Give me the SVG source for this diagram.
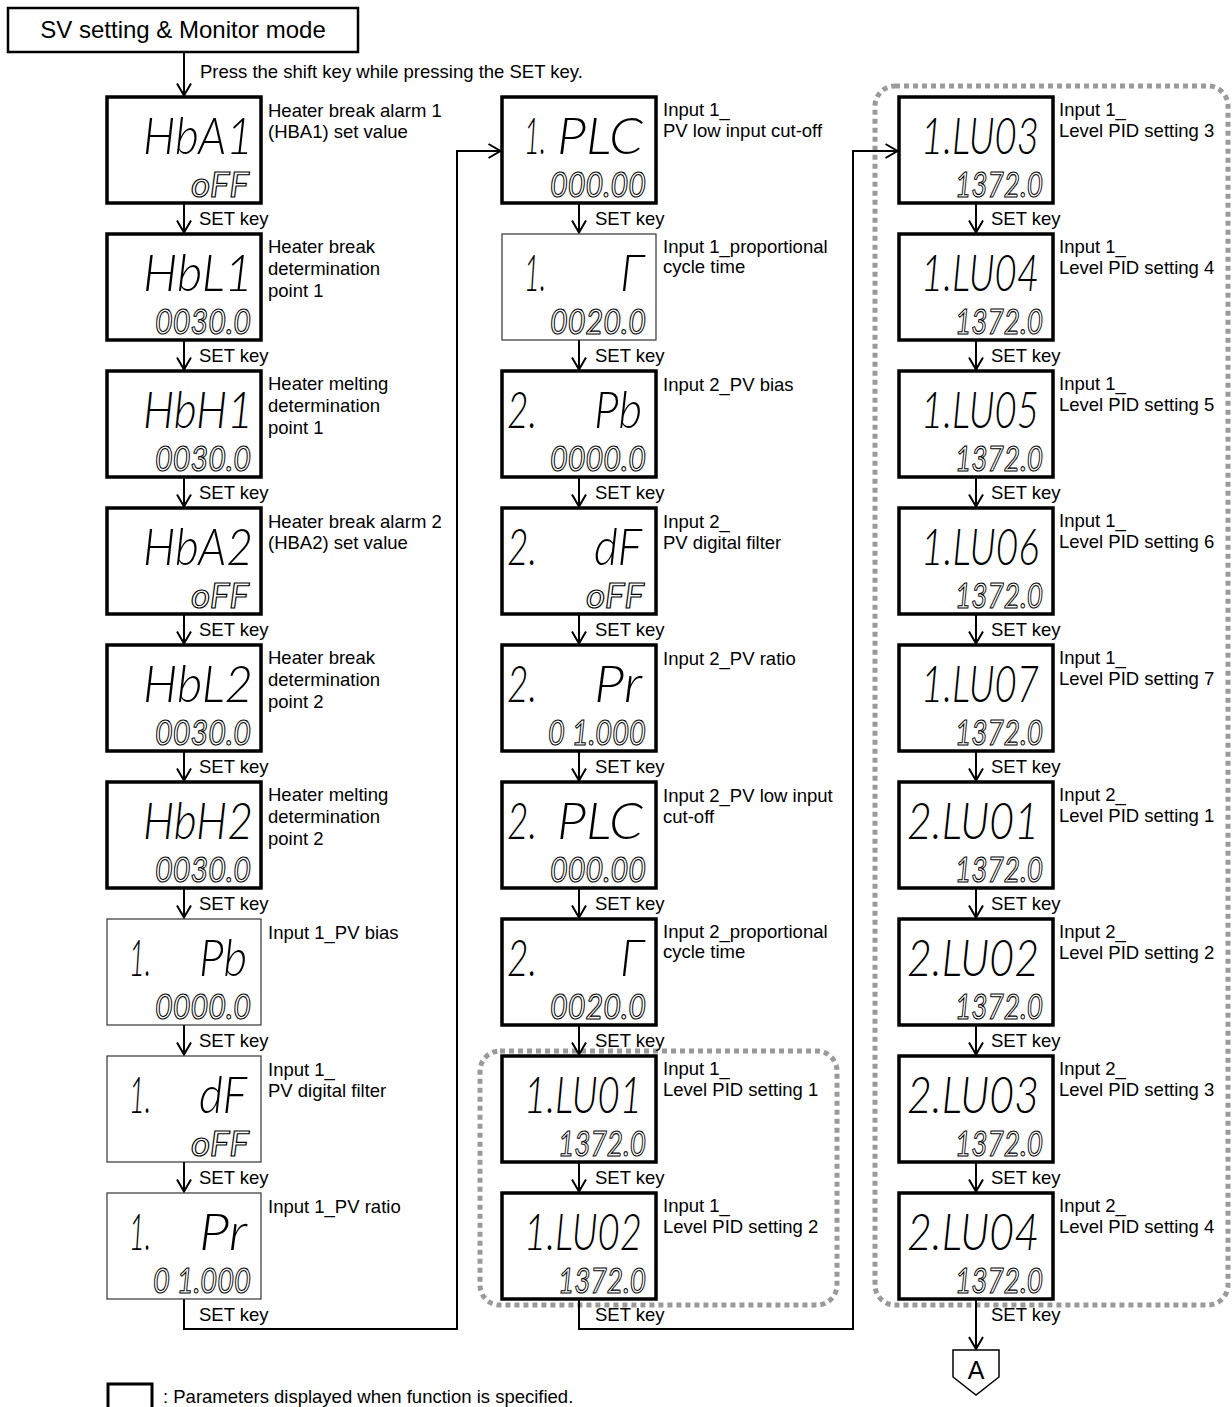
<svg xmlns="http://www.w3.org/2000/svg" width="1232" height="1407" viewBox="0 0 1232 1407">
<style>
.box{fill:#fff;stroke:#000;stroke-width:3.5}
.thin{fill:#fff;stroke:#333;stroke-width:1.2}
.lbl{font-family:"Liberation Sans",Arial,sans-serif;font-size:18.5px;fill:#000}
.seg{font-family:Lato,Roboto,"Liberation Sans",sans-serif;font-style:italic;font-weight:300;font-size:37px;fill:#000}
.sub{font-family:Lato,Roboto,"Liberation Sans",sans-serif;font-style:italic;font-weight:400;font-size:30px;fill:none;stroke:#000;stroke-width:0.95}
.grp{fill:none;stroke:#9a9a9a;stroke-width:5;stroke-dasharray:5 4}
.wire{fill:none;stroke:#000;stroke-width:2}
</style>
<defs>
<marker id="ah" markerUnits="userSpaceOnUse" markerWidth="20" markerHeight="20" viewBox="-14 -10 20 20" refX="0" refY="0" orient="auto"><path d="M-12,-7L0,0L-12,7" fill="none" stroke="#000" stroke-width="2"/></marker>
</defs>
<rect width="1232" height="1407" fill="#fff"/>

<g id="groups">
<rect class="grp" x="480" y="1051" width="357" height="254" rx="20"/>
<rect class="grp" x="875" y="86" width="353" height="1219" rx="20"/>
</g>

<g id="title">
<rect x="8" y="8" width="350" height="44" fill="#fff" stroke="#000" stroke-width="2.5"/>
<text class="lbl" x="183" y="38" text-anchor="middle" style="font-size:24px">SV setting &amp; Monitor mode</text>
</g>

<g id="connectors">
<path class="wire" marker-end="url(#ah)" d="M184 52V95.5"/>
<text class="lbl" x="200" y="78">Press the shift key while pressing the SET key.</text>
<path class="wire" marker-end="url(#ah)" d="M184 203V232.5"/>
<path class="wire" marker-end="url(#ah)" d="M184 340V369.5"/>
<path class="wire" marker-end="url(#ah)" d="M184 477V506.5"/>
<path class="wire" marker-end="url(#ah)" d="M184 614V643.5"/>
<path class="wire" marker-end="url(#ah)" d="M184 751V780.5"/>
<path class="wire" marker-end="url(#ah)" d="M184 888V917.5"/>
<path class="wire" marker-end="url(#ah)" d="M184 1025V1054.5"/>
<path class="wire" marker-end="url(#ah)" d="M184 1162V1191.5"/>
<path class="wire" marker-end="url(#ah)" d="M184 1299V1329H457V151H500.5"/>
<path class="wire" marker-end="url(#ah)" d="M579 203V232.5"/>
<path class="wire" marker-end="url(#ah)" d="M579 340V369.5"/>
<path class="wire" marker-end="url(#ah)" d="M579 477V506.5"/>
<path class="wire" marker-end="url(#ah)" d="M579 614V643.5"/>
<path class="wire" marker-end="url(#ah)" d="M579 751V780.5"/>
<path class="wire" marker-end="url(#ah)" d="M579 888V917.5"/>
<path class="wire" marker-end="url(#ah)" d="M579 1025V1054.5"/>
<path class="wire" marker-end="url(#ah)" d="M579 1162V1191.5"/>
<path class="wire" marker-end="url(#ah)" d="M579 1299V1329H853V151H897.5"/>
<path class="wire" marker-end="url(#ah)" d="M976 203V232.5"/>
<path class="wire" marker-end="url(#ah)" d="M976 340V369.5"/>
<path class="wire" marker-end="url(#ah)" d="M976 477V506.5"/>
<path class="wire" marker-end="url(#ah)" d="M976 614V643.5"/>
<path class="wire" marker-end="url(#ah)" d="M976 751V780.5"/>
<path class="wire" marker-end="url(#ah)" d="M976 888V917.5"/>
<path class="wire" marker-end="url(#ah)" d="M976 1025V1054.5"/>
<path class="wire" marker-end="url(#ah)" d="M976 1162V1191.5"/>
<path class="wire" marker-end="url(#ah)" d="M976 1299V1349"/>
<g class="lbl">
<text x="199" y="225">SET key</text><text x="199" y="362">SET key</text><text x="199" y="499">SET key</text><text x="199" y="636">SET key</text><text x="199" y="773">SET key</text><text x="199" y="910">SET key</text><text x="199" y="1047">SET key</text><text x="199" y="1184">SET key</text><text x="199" y="1321">SET key</text>
<text x="595" y="225">SET key</text><text x="595" y="362">SET key</text><text x="595" y="499">SET key</text><text x="595" y="636">SET key</text><text x="595" y="773">SET key</text><text x="595" y="910">SET key</text><text x="595" y="1047">SET key</text><text x="595" y="1184">SET key</text><text x="595" y="1321">SET key</text>
<text x="991" y="225">SET key</text><text x="991" y="362">SET key</text><text x="991" y="499">SET key</text><text x="991" y="636">SET key</text><text x="991" y="773">SET key</text><text x="991" y="910">SET key</text><text x="991" y="1047">SET key</text><text x="991" y="1184">SET key</text><text x="991" y="1321">SET key</text>
</g>
</g>

<!-- Column 1 -->
<g id="n-hba1" transform="translate(107,97)">
<rect class="box" width="154" height="106"/>
<text class="seg" transform="translate(36,57) scale(1,1.4)" textLength="110" lengthAdjust="spacingAndGlyphs">HbA1</text>
<text class="sub" transform="translate(84,100) scale(1,1.17)" textLength="58" lengthAdjust="spacingAndGlyphs">oFF</text>
<text class="lbl"><tspan x="161" y="20">Heater break alarm 1</tspan><tspan x="161" y="41">(HBA1) set value</tspan></text>
</g>
<g id="n-hbl1" transform="translate(107,234)">
<rect class="box" width="154" height="106"/>
<text class="seg" transform="translate(36,57) scale(1,1.4)" textLength="110" lengthAdjust="spacingAndGlyphs">HbL1</text>
<text class="sub" transform="translate(48,100) scale(1,1.17)" textLength="96" lengthAdjust="spacingAndGlyphs">0030.0</text>
<text class="lbl"><tspan x="161" y="19">Heater break</tspan><tspan x="161" y="41">determination</tspan><tspan x="161" y="63">point 1</tspan></text>
</g>
<g id="n-hbh1" transform="translate(107,371)">
<rect class="box" width="154" height="106"/>
<text class="seg" transform="translate(36,57) scale(1,1.4)" textLength="110" lengthAdjust="spacingAndGlyphs">HbH1</text>
<text class="sub" transform="translate(48,100) scale(1,1.17)" textLength="96" lengthAdjust="spacingAndGlyphs">0030.0</text>
<text class="lbl"><tspan x="161" y="19">Heater melting</tspan><tspan x="161" y="41">determination</tspan><tspan x="161" y="63">point 1</tspan></text>
</g>
<g id="n-hba2" transform="translate(107,508)">
<rect class="box" width="154" height="106"/>
<text class="seg" transform="translate(36,57) scale(1,1.4)" textLength="110" lengthAdjust="spacingAndGlyphs">HbA2</text>
<text class="sub" transform="translate(84,100) scale(1,1.17)" textLength="58" lengthAdjust="spacingAndGlyphs">oFF</text>
<text class="lbl"><tspan x="161" y="20">Heater break alarm 2</tspan><tspan x="161" y="41">(HBA2) set value</tspan></text>
</g>
<g id="n-hbl2" transform="translate(107,645)">
<rect class="box" width="154" height="106"/>
<text class="seg" transform="translate(36,57) scale(1,1.4)" textLength="110" lengthAdjust="spacingAndGlyphs">HbL2</text>
<text class="sub" transform="translate(48,100) scale(1,1.17)" textLength="96" lengthAdjust="spacingAndGlyphs">0030.0</text>
<text class="lbl"><tspan x="161" y="19">Heater break</tspan><tspan x="161" y="41">determination</tspan><tspan x="161" y="63">point 2</tspan></text>
</g>
<g id="n-hbh2" transform="translate(107,782)">
<rect class="box" width="154" height="106"/>
<text class="seg" transform="translate(36,57) scale(1,1.4)" textLength="110" lengthAdjust="spacingAndGlyphs">HbH2</text>
<text class="sub" transform="translate(48,100) scale(1,1.17)" textLength="96" lengthAdjust="spacingAndGlyphs">0030.0</text>
<text class="lbl"><tspan x="161" y="19">Heater melting</tspan><tspan x="161" y="41">determination</tspan><tspan x="161" y="63">point 2</tspan></text>
</g>
<g id="n-1pb" transform="translate(107,919)">
<rect class="thin" width="154" height="106"/>
<text class="seg" transform="translate(22,57) scale(1,1.4)" textLength="22" lengthAdjust="spacingAndGlyphs">1.</text>
<text class="seg" transform="translate(92,57) scale(1,1.4)" textLength="48" lengthAdjust="spacingAndGlyphs">Pb</text>
<text class="sub" transform="translate(48,100) scale(1,1.17)" textLength="96" lengthAdjust="spacingAndGlyphs">0000.0</text>
<text class="lbl"><tspan x="161" y="20">Input 1_PV bias</tspan></text>
</g>
<g id="n-1df" transform="translate(107,1056)">
<rect class="thin" width="154" height="106"/>
<text class="seg" transform="translate(22,57) scale(1,1.4)" textLength="22" lengthAdjust="spacingAndGlyphs">1.</text>
<text class="seg" transform="translate(92,57) scale(1,1.4)" textLength="48" lengthAdjust="spacingAndGlyphs">dF</text>
<text class="sub" transform="translate(84,100) scale(1,1.17)" textLength="58" lengthAdjust="spacingAndGlyphs">oFF</text>
<text class="lbl"><tspan x="161" y="20">Input 1_</tspan><tspan x="161" y="41">PV digital filter</tspan></text>
</g>
<g id="n-1pr" transform="translate(107,1193)">
<rect class="thin" width="154" height="106"/>
<text class="seg" transform="translate(22,57) scale(1,1.4)" textLength="22" lengthAdjust="spacingAndGlyphs">1.</text>
<text class="seg" transform="translate(92,57) scale(1,1.4)" textLength="48" lengthAdjust="spacingAndGlyphs">Pr</text>
<text class="sub" transform="translate(46,100) scale(1,1.17)" textLength="98" lengthAdjust="spacingAndGlyphs">0 1.000</text>
<text class="lbl"><tspan x="161" y="20">Input 1_PV ratio</tspan></text>
</g>

<!-- Column 2 -->
<g id="n-1plc" transform="translate(502,97)">
<rect class="box" width="154" height="106"/>
<text class="seg" transform="translate(22,57) scale(1,1.4)" textLength="22" lengthAdjust="spacingAndGlyphs">1.</text>
<text class="seg" transform="translate(55,57) scale(1,1.4)" textLength="86" lengthAdjust="spacingAndGlyphs">PLC</text>
<text class="sub" transform="translate(48,100) scale(1,1.17)" textLength="96" lengthAdjust="spacingAndGlyphs">000.00</text>
<text class="lbl"><tspan x="161" y="19">Input 1_</tspan><tspan x="161" y="40">PV low input cut-off</tspan></text>
</g>
<g id="n-1t" transform="translate(502,234)">
<rect class="thin" width="154" height="106"/>
<text class="seg" transform="translate(22,57) scale(1,1.4)" textLength="22" lengthAdjust="spacingAndGlyphs">1.</text>
<text class="seg" transform="translate(118,57) scale(1,1.4)" textLength="24" lengthAdjust="spacingAndGlyphs">Γ</text>
<text class="sub" transform="translate(48,100) scale(1,1.17)" textLength="96" lengthAdjust="spacingAndGlyphs">0020.0</text>
<text class="lbl"><tspan x="161" y="19">Input 1_proportional</tspan><tspan x="161" y="39">cycle time</tspan></text>
</g>
<g id="n-2pb" transform="translate(502,371)">
<rect class="box" width="154" height="106"/>
<text class="seg" transform="translate(5,57) scale(1,1.4)" textLength="30" lengthAdjust="spacingAndGlyphs">2.</text>
<text class="seg" transform="translate(92,57) scale(1,1.4)" textLength="48" lengthAdjust="spacingAndGlyphs">Pb</text>
<text class="sub" transform="translate(48,100) scale(1,1.17)" textLength="96" lengthAdjust="spacingAndGlyphs">0000.0</text>
<text class="lbl"><tspan x="161" y="20">Input 2_PV bias</tspan></text>
</g>
<g id="n-2df" transform="translate(502,508)">
<rect class="box" width="154" height="106"/>
<text class="seg" transform="translate(5,57) scale(1,1.4)" textLength="30" lengthAdjust="spacingAndGlyphs">2.</text>
<text class="seg" transform="translate(92,57) scale(1,1.4)" textLength="48" lengthAdjust="spacingAndGlyphs">dF</text>
<text class="sub" transform="translate(84,100) scale(1,1.17)" textLength="58" lengthAdjust="spacingAndGlyphs">oFF</text>
<text class="lbl"><tspan x="161" y="20">Input 2_</tspan><tspan x="161" y="41">PV digital filter</tspan></text>
</g>
<g id="n-2pr" transform="translate(502,645)">
<rect class="box" width="154" height="106"/>
<text class="seg" transform="translate(5,57) scale(1,1.4)" textLength="30" lengthAdjust="spacingAndGlyphs">2.</text>
<text class="seg" transform="translate(92,57) scale(1,1.4)" textLength="48" lengthAdjust="spacingAndGlyphs">Pr</text>
<text class="sub" transform="translate(46,100) scale(1,1.17)" textLength="98" lengthAdjust="spacingAndGlyphs">0 1.000</text>
<text class="lbl"><tspan x="161" y="20">Input 2_PV ratio</tspan></text>
</g>
<g id="n-2plc" transform="translate(502,782)">
<rect class="box" width="154" height="106"/>
<text class="seg" transform="translate(5,57) scale(1,1.4)" textLength="30" lengthAdjust="spacingAndGlyphs">2.</text>
<text class="seg" transform="translate(55,57) scale(1,1.4)" textLength="86" lengthAdjust="spacingAndGlyphs">PLC</text>
<text class="sub" transform="translate(48,100) scale(1,1.17)" textLength="96" lengthAdjust="spacingAndGlyphs">000.00</text>
<text class="lbl"><tspan x="161" y="20">Input 2_PV low input</tspan><tspan x="161" y="41">cut-off</tspan></text>
</g>
<g id="n-2t" transform="translate(502,919)">
<rect class="box" width="154" height="106"/>
<text class="seg" transform="translate(5,57) scale(1,1.4)" textLength="30" lengthAdjust="spacingAndGlyphs">2.</text>
<text class="seg" transform="translate(118,57) scale(1,1.4)" textLength="24" lengthAdjust="spacingAndGlyphs">Γ</text>
<text class="sub" transform="translate(48,100) scale(1,1.17)" textLength="96" lengthAdjust="spacingAndGlyphs">0020.0</text>
<text class="lbl"><tspan x="161" y="19">Input 2_proportional</tspan><tspan x="161" y="39">cycle time</tspan></text>
</g>
<g id="n-1lu01" transform="translate(502,1056)">
<rect class="box" width="154" height="106"/>
<text class="seg" transform="translate(22,57) scale(1,1.4)" textLength="118" lengthAdjust="spacingAndGlyphs">1.LU01</text>
<text class="sub" transform="translate(56,100) scale(1,1.17)" textLength="88" lengthAdjust="spacingAndGlyphs">1372.0</text>
<text class="lbl"><tspan x="161" y="19">Input 1_</tspan><tspan x="161" y="40">Level PID setting 1</tspan></text>
</g>
<g id="n-1lu02" transform="translate(502,1193)">
<rect class="box" width="154" height="106"/>
<text class="seg" transform="translate(22,57) scale(1,1.4)" textLength="118" lengthAdjust="spacingAndGlyphs">1.LU02</text>
<text class="sub" transform="translate(56,100) scale(1,1.17)" textLength="88" lengthAdjust="spacingAndGlyphs">1372.0</text>
<text class="lbl"><tspan x="161" y="19">Input 1_</tspan><tspan x="161" y="40">Level PID setting 2</tspan></text>
</g>

<!-- Column 3 -->
<g id="n-1lu03" transform="translate(899,97)">
<rect class="box" width="154" height="106"/>
<text class="seg" transform="translate(22,57) scale(1,1.4)" textLength="118" lengthAdjust="spacingAndGlyphs">1.LU03</text>
<text class="sub" transform="translate(56,100) scale(1,1.17)" textLength="88" lengthAdjust="spacingAndGlyphs">1372.0</text>
<text class="lbl"><tspan x="160" y="19">Input 1_</tspan><tspan x="160" y="40">Level PID setting 3</tspan></text>
</g>
<g id="n-1lu04" transform="translate(899,234)">
<rect class="box" width="154" height="106"/>
<text class="seg" transform="translate(22,57) scale(1,1.4)" textLength="118" lengthAdjust="spacingAndGlyphs">1.LU04</text>
<text class="sub" transform="translate(56,100) scale(1,1.17)" textLength="88" lengthAdjust="spacingAndGlyphs">1372.0</text>
<text class="lbl"><tspan x="160" y="19">Input 1_</tspan><tspan x="160" y="40">Level PID setting 4</tspan></text>
</g>
<g id="n-1lu05" transform="translate(899,371)">
<rect class="box" width="154" height="106"/>
<text class="seg" transform="translate(22,57) scale(1,1.4)" textLength="118" lengthAdjust="spacingAndGlyphs">1.LU05</text>
<text class="sub" transform="translate(56,100) scale(1,1.17)" textLength="88" lengthAdjust="spacingAndGlyphs">1372.0</text>
<text class="lbl"><tspan x="160" y="19">Input 1_</tspan><tspan x="160" y="40">Level PID setting 5</tspan></text>
</g>
<g id="n-1lu06" transform="translate(899,508)">
<rect class="box" width="154" height="106"/>
<text class="seg" transform="translate(22,57) scale(1,1.4)" textLength="118" lengthAdjust="spacingAndGlyphs">1.LU06</text>
<text class="sub" transform="translate(56,100) scale(1,1.17)" textLength="88" lengthAdjust="spacingAndGlyphs">1372.0</text>
<text class="lbl"><tspan x="160" y="19">Input 1_</tspan><tspan x="160" y="40">Level PID setting 6</tspan></text>
</g>
<g id="n-1lu07" transform="translate(899,645)">
<rect class="box" width="154" height="106"/>
<text class="seg" transform="translate(22,57) scale(1,1.4)" textLength="118" lengthAdjust="spacingAndGlyphs">1.LU07</text>
<text class="sub" transform="translate(56,100) scale(1,1.17)" textLength="88" lengthAdjust="spacingAndGlyphs">1372.0</text>
<text class="lbl"><tspan x="160" y="19">Input 1_</tspan><tspan x="160" y="40">Level PID setting 7</tspan></text>
</g>
<g id="n-2lu01" transform="translate(899,782)">
<rect class="box" width="154" height="106"/>
<text class="seg" transform="translate(8,57) scale(1,1.4)" textLength="132" lengthAdjust="spacingAndGlyphs">2.LU01</text>
<text class="sub" transform="translate(56,100) scale(1,1.17)" textLength="88" lengthAdjust="spacingAndGlyphs">1372.0</text>
<text class="lbl"><tspan x="160" y="19">Input 2_</tspan><tspan x="160" y="40">Level PID setting 1</tspan></text>
</g>
<g id="n-2lu02" transform="translate(899,919)">
<rect class="box" width="154" height="106"/>
<text class="seg" transform="translate(8,57) scale(1,1.4)" textLength="132" lengthAdjust="spacingAndGlyphs">2.LU02</text>
<text class="sub" transform="translate(56,100) scale(1,1.17)" textLength="88" lengthAdjust="spacingAndGlyphs">1372.0</text>
<text class="lbl"><tspan x="160" y="19">Input 2_</tspan><tspan x="160" y="40">Level PID setting 2</tspan></text>
</g>
<g id="n-2lu03" transform="translate(899,1056)">
<rect class="box" width="154" height="106"/>
<text class="seg" transform="translate(8,57) scale(1,1.4)" textLength="132" lengthAdjust="spacingAndGlyphs">2.LU03</text>
<text class="sub" transform="translate(56,100) scale(1,1.17)" textLength="88" lengthAdjust="spacingAndGlyphs">1372.0</text>
<text class="lbl"><tspan x="160" y="19">Input 2_</tspan><tspan x="160" y="40">Level PID setting 3</tspan></text>
</g>
<g id="n-2lu04" transform="translate(899,1193)">
<rect class="box" width="154" height="106"/>
<text class="seg" transform="translate(8,57) scale(1,1.4)" textLength="132" lengthAdjust="spacingAndGlyphs">2.LU04</text>
<text class="sub" transform="translate(56,100) scale(1,1.17)" textLength="88" lengthAdjust="spacingAndGlyphs">1372.0</text>
<text class="lbl"><tspan x="160" y="19">Input 2_</tspan><tspan x="160" y="40">Level PID setting 4</tspan></text>
</g>

<g id="n-A">
<path d="M953 1350H999V1377L976 1395L953 1377Z" fill="#fff" stroke="#000" stroke-width="1.5"/>
<text class="lbl" x="976" y="1379" text-anchor="middle" style="font-size:25px">A</text>
</g>

<g id="legend">
<rect x="108" y="1384" width="44" height="30" fill="#fff" stroke="#000" stroke-width="3"/>
<text class="lbl" x="163" y="1403">: Parameters displayed when function is specified.</text>
</g>
</svg>
